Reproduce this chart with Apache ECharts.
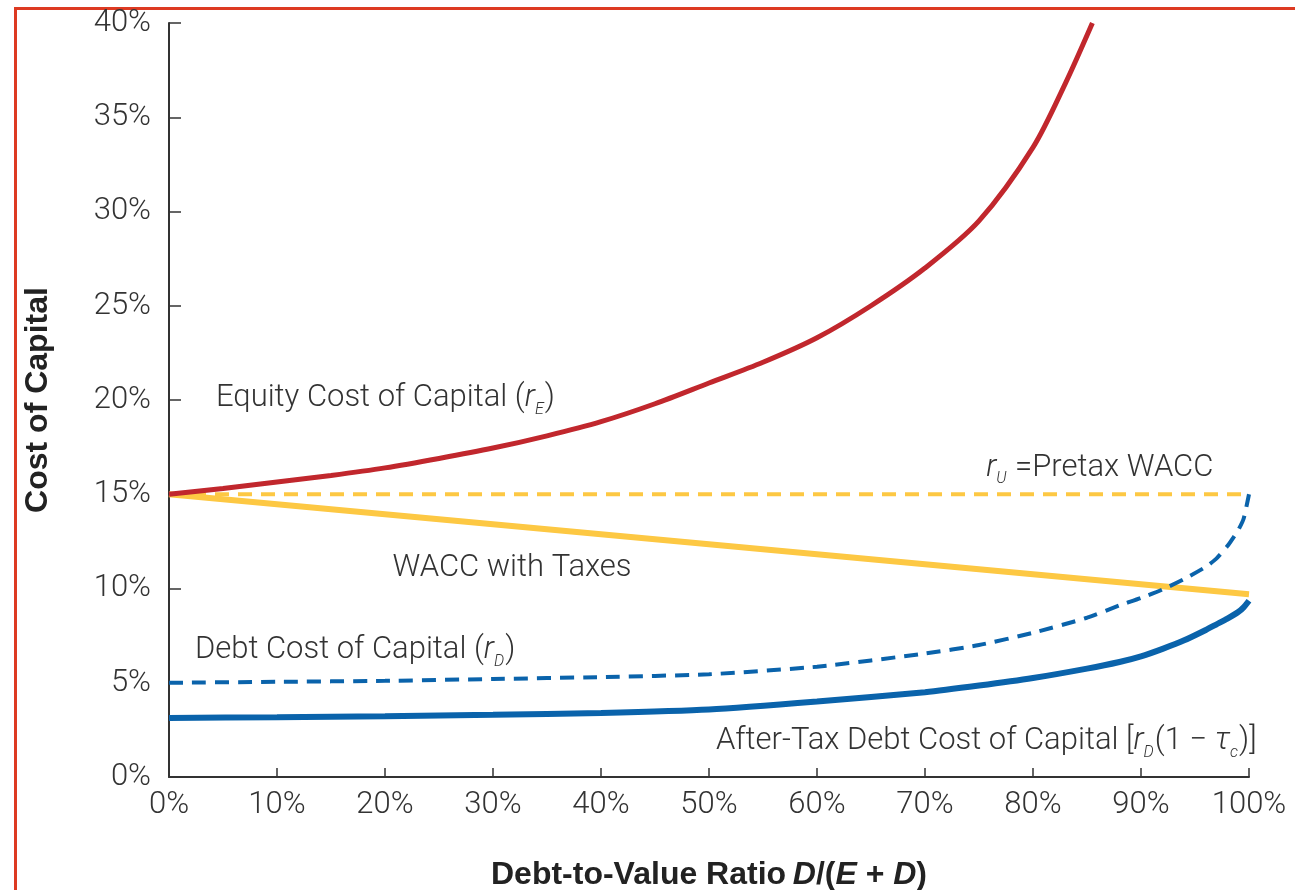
<!DOCTYPE html>
<html>
<head>
<meta charset="utf-8">
<script src="https://cdn.jsdelivr.net/npm/echarts@6/dist/echarts.min.js"></script>
<style>
html, body { margin: 0; padding: 0; background: #fff; overflow: hidden; }
#frame { position: absolute; left: 14px; top: 7px; width: 1300px; height: 900px; border: 3px solid #dd3a22; box-sizing: border-box; }
#myChart { position: absolute; left: 0; top: 0; width: 1295px; height: 890px; }
</style>
</head>
<body>
<div id="frame"></div>
<div id="myChart"></div>
<script>
// in percent
var debtRatio = [0, 10, 20, 30, 40, 50, 60, 70, 75, 80, 85, 88, 90, 92, 94, 96, 97, 98, 99, 99.5, 100];
var debtCost = [5.0, 5.05, 5.1, 5.2, 5.3, 5.45, 5.85, 6.55, 7.0, 7.65, 8.45, 9.1, 9.5, 9.95, 10.5, 11.15, 11.6, 12.25, 13.1, 13.7, 15.0];
var afterTaxDebtCost = [3.13, 3.17, 3.22, 3.3, 3.4, 3.58, 4.0, 4.5, 4.85, 5.25, 5.75, 6.1, 6.4, 6.8, 7.25, 7.8, 8.1, 8.4, 8.75, 9.0, 9.35];
var equityRatio = [0, 5, 10, 15, 20, 25, 30, 35, 40, 45, 50, 55, 60, 65, 70, 75, 80, 83, 85.5];
var equityCost = [15.0, 15.3, 15.65, 16.0, 16.4, 16.9, 17.45, 18.1, 18.85, 19.8, 20.9, 22.0, 23.3, 25.0, 27.0, 29.5, 33.4, 36.8, 40.0];
var waccRatio = [0, 100];
var pretaxWacc = [15, 15];
var waccWithTaxes = [15, 9.7];

function pairs(xs, ys) {
    return xs.map(function (x, i) { return [x, ys[i]]; });
}

var chartDom = document.getElementById('myChart');
var myChart = echarts.init(chartDom);
var option;

var labelFont = 'Roboto, "Liberation Sans", sans-serif';
var titleFont = '"Liberation Sans", Arial, sans-serif';
var red = '#c1272d';
var yellow = '#fdc843';
var blue = '#0a63ab';

option = {
    animation: false,
    grid: { left: 169, right: 46, top: 23, bottom: 113, outerBoundsMode: 'none' },
    xAxis: {
        type: 'value',
        min: 0,
        max: 100,
        interval: 10,
        name: '{a|Debt-to-Value Ratio}  {b|D}{a|/(}{b|E}{a| + }{b|D}{a|)}',
        nameLocation: 'middle',
        nameGap: 82,
        nameTextStyle: {
            rich: {
                a: { fontFamily: titleFont, fontWeight: 'bold', fontSize: 32, color: '#222' },
                b: { fontFamily: titleFont, fontWeight: 'bold', fontStyle: 'italic', fontSize: 32, color: '#222' }
            }
        },
        axisLine: { lineStyle: { color: '#333', width: 2 } },
        axisTick: { inside: true, length: 9, lineStyle: { color: '#333', width: 1.5 } },
        axisLabel: { formatter: '{value}%', fontSize: 31, color: '#333', fontFamily: labelFont, fontWeight: 300, margin: 13 },
        splitLine: { show: false }
    },
    yAxis: {
        type: 'value',
        min: 0,
        max: 40,
        interval: 5,
        name: 'Cost of Capital',
        nameLocation: 'middle',
        nameGap: 115,
        nameTextStyle: { fontFamily: titleFont, fontWeight: 'bold', fontSize: 32, color: '#222' },
        axisLine: { show: true, lineStyle: { color: '#333', width: 2 } },
        axisTick: { show: true, inside: true, length: 12, lineStyle: { color: '#333', width: 1.5 } },
        axisLabel: { formatter: '{value}%', fontSize: 31, color: '#333', fontFamily: labelFont, fontWeight: 300, margin: 18 },
        splitLine: { show: false }
    },
    series: [
        {
            name: 'Pretax WACC',
            type: 'line',
            data: pairs(waccRatio, pretaxWacc),
            showSymbol: false,
            lineStyle: { color: yellow, width: 4, type: [14, 9] },
            z: 2
        },
        {
            name: 'WACC with Taxes',
            type: 'line',
            data: pairs(waccRatio, waccWithTaxes),
            showSymbol: false,
            lineStyle: { color: yellow, width: 6 },
            z: 3
        },
        {
            name: 'Debt Cost of Capital',
            type: 'line',
            data: pairs(debtRatio, debtCost),
            showSymbol: false,
            smooth: 0.2,
            lineStyle: { color: blue, width: 4, type: [14, 9] },
            z: 4
        },
        {
            name: 'After-Tax Debt Cost of Capital',
            type: 'line',
            data: pairs(debtRatio, afterTaxDebtCost),
            showSymbol: false,
            smooth: 0.2,
            lineStyle: { color: blue, width: 6 },
            z: 4
        },
        {
            name: 'Equity Cost of Capital',
            type: 'line',
            data: pairs(equityRatio, equityCost),
            showSymbol: false,
            smooth: 0.3,
            lineStyle: { color: red, width: 5 },
            z: 5
        }
    ]
};

option && myChart.setOption(option);

// curve labels, anchored in data coordinates
var txt = { fontSize: 31, fontFamily: labelFont, fontWeight: 300, fill: '#333' };
var rich = {
    i: { fontSize: 31, fontFamily: labelFont, fontWeight: 300, fontStyle: 'italic', color: '#333', verticalAlign: 'bottom' },
    n: { fontSize: 31, fontFamily: labelFont, fontWeight: 300, color: '#333', verticalAlign: 'bottom' },
    sub: { fontSize: 16, fontFamily: labelFont, fontWeight: 300, fontStyle: 'italic', color: '#555', verticalAlign: 'bottom', padding: [0, 1, -4, 0] }
};
var notes = [
    { at: [4.35, 20.1], align: 'left', text: '{n|Equity Cost of Capital (}{i|r}{sub|E}{n|)}' },
    { at: [96.7, 16.4], align: 'right', text: '{i|r}{sub|U}{n| =Pretax WACC}' },
    { at: [20.7, 11.1], align: 'left', text: '{n|WACC with Taxes}' },
    { at: [2.4, 6.7], align: 'left', text: '{n|Debt Cost of Capital (}{i|r}{sub|D}{n|)}' },
    { at: [100.7, 1.9], align: 'right', text: '{n|After-Tax Debt Cost of Capital [}{i|r}{sub|D}{n|(1 \u2212 }{i|\u03c4}{sub|c}{n|)]}' }
];
var graphics = notes.map(function (n) {
    var p = myChart.convertToPixel({ gridIndex: 0 }, n.at);
    return {
        type: 'text',
        x: p[0],
        y: p[1],
        z: 10,
        style: Object.assign({}, txt, { text: n.text, rich: rich, align: n.align, verticalAlign: 'middle' })
    };
});
myChart.setOption({ graphic: graphics });
</script>
</body>
</html>
